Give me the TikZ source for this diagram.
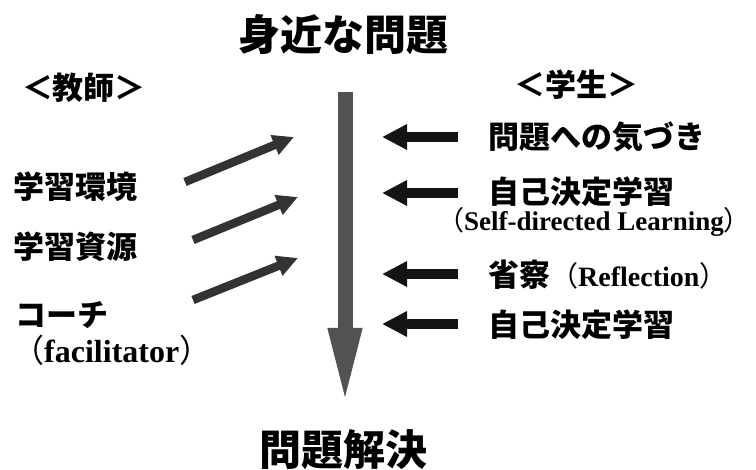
\documentclass[tikz,border=0pt]{standalone}
\usepackage{fontspec}
\setmainfont{Liberation Serif}
\newfontfamily\jpfont{Noto Sans CJK JP}
\usetikzlibrary{arrows.meta}
\newcommand{\fsz}[1]{\fontsize{#1}{#1}\selectfont}

\begin{document}
\begin{tikzpicture}[x=1pt, y=-1pt,
  heading/.style={font=\jpfont\bfseries\fsz{42}, inner sep=0pt},
  side/.style={font=\jpfont\bfseries\fsz{31}, inner sep=0pt},
  item/.style={font=\jpfont\bfseries\fsz{31}, inner sep=0pt, anchor=west},
  gloss/.style={inner sep=0pt, anchor=west},
  flow/.style={line width=15pt, draw=black!68, -{Triangle[length=79pt,width=30pt]}},
  push/.style={line width=8.5pt, draw=black!80, -{Triangle[length=21pt,width=20pt]}},
  pull/.style={line width=10pt, draw=black!92, -{Triangle[length=25pt,width=24pt]}},
]
\useasboundingbox (0,0) rectangle (756,470);

% Start and goal
\node[heading] (start) at (343,35) {身近な問題};
\node[heading] (goal)  at (343,450) {問題解決};

% Main flow
\coordinate (flowtop) at (345,92);
\coordinate (flowend) at (345,407);
\draw[flow] (flowtop) -- (flowend);

% Teacher side
\node[side] (teacher) at (84,88) {＜教師＞};
\node[item] (env)   at (13,187) {学習環境};
\node[item] (res)   at (13,247) {学習資源};
\node[item] (coach) at (15,315) {コーチ};
\node[gloss, font={\bfseries\fsz{32}}] (facil) at (12,350)
  {{\jpfont\mdseries （}facilitator{\jpfont\mdseries ）}};

\coordinate (envtail) at (185,182);   \coordinate (envtip) at (294,137);
\coordinate (restail) at (193,240);   \coordinate (restip) at (298,197);
\coordinate (coachtail) at (193,300); \coordinate (coachtip) at (298,258);
\draw[push] (envtail) -- (envtip);
\draw[push] (restail) -- (restip);
\draw[push] (coachtail) -- (coachtip);

% Student side
\node[side] (student) at (576,85) {＜学生＞};
\node[item] (aware)   at (488,137) {問題への気づき};
\node[item] (selfdir) at (488,192) {自己決定学習};
\node[gloss, font={\bfseries\fsz{27}}] (selfen) at (437,222)
  {{\jpfont\mdseries （}Self-directed Learning{\jpfont\mdseries ）}};
\node[item] (reflect) at (488,275)
  {省察{\mdseries\fsz{28}（}{\rmfamily\fsz{28}Reflection}{\mdseries\fsz{28}）}};
\node[item] (selfdir2) at (488,325) {自己決定学習};

\coordinate (awaretail) at (458,137);    \coordinate (awaretip) at (382,137);
\coordinate (selftail) at (458,193);     \coordinate (selftip) at (382,193);
\coordinate (reflecttail) at (458,274);  \coordinate (reflecttip) at (382,274);
\coordinate (self2tail) at (458,324);    \coordinate (self2tip) at (382,324);
\draw[pull] (awaretail) -- (awaretip);
\draw[pull] (selftail) -- (selftip);
\draw[pull] (reflecttail) -- (reflecttip);
\draw[pull] (self2tail) -- (self2tip);
\end{tikzpicture}
\end{document}
